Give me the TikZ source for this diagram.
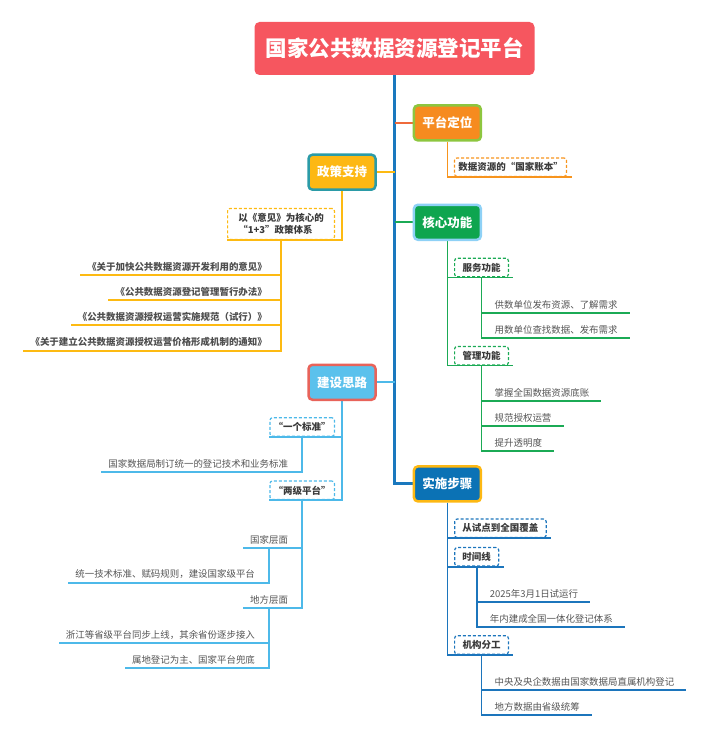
\documentclass[tikz,border=0pt]{standalone}
\usepackage{fontspec}
\setmainfont{Noto Sans CJK SC}
\usetikzlibrary{backgrounds}
\definecolor{titleRed}{HTML}{F6565F}
\definecolor{trunkBlue}{HTML}{1A78BE}
\definecolor{orFill}{HTML}{F68B1F}
\definecolor{orBorder}{HTML}{8DC63F}
\definecolor{orLine}{HTML}{EF6A3B}
\definecolor{orChild}{HTML}{F7941D}
\definecolor{goldFill}{HTML}{FDB813}
\definecolor{goldBorder}{HTML}{2B9BA7}
\definecolor{goldLine}{HTML}{FDBA12}
\definecolor{grFill}{HTML}{0EA54F}
\definecolor{grBorder}{HTML}{8ED1F6}
\definecolor{grLine}{HTML}{1BAA55}
\definecolor{lbFill}{HTML}{5BC1EC}
\definecolor{lbBorder}{HTML}{E8635A}
\definecolor{lbLine}{HTML}{4DB9E9}
\definecolor{bFill}{HTML}{0B72B5}
\definecolor{bBorder}{HTML}{FDB813}
\definecolor{bLine}{HTML}{1C75BC}
\definecolor{leafGray}{HTML}{555555}
\definecolor{darkText}{HTML}{3A3A3A}
\begin{document}
\begin{tikzpicture}[x=1pt,y=-1pt,
  titlebox/.style={fill=titleRed, rounded corners=5pt, minimum width=280pt, minimum height=53pt, inner sep=0pt, text=white, font=\bfseries\fontsize{21.5}{24}\selectfont},
  mainbox/.style={draw, line width=2.5pt, rounded corners=4pt, minimum width=67pt, minimum height=35pt, inner sep=0pt, text=white, font=\bfseries\fontsize{12.5}{14}\selectfont},
  dnode/.style={draw, dash pattern=on 3pt off 2pt, line width=1.2pt, rounded corners=2.5pt, inner sep=0pt, minimum height=18.5pt, text=darkText, font=\bfseries\fontsize{9.5}{12.5}\selectfont},
  rleaf/.style={anchor=south west, inner xsep=0pt, inner ysep=3.5pt, text=leafGray, font=\fontsize{9.45}{11.5}\selectfont, execute at begin node={\hspace*{13pt}}, execute at end node={\hspace*{12pt}}},
  lleaf/.style={anchor=south east, inner xsep=0pt, inner ysep=3.5pt, text=leafGray, font=\fontsize{9.45}{11.5}\selectfont, execute at begin node={\hspace*{7pt}}, execute at end node={\hspace*{14pt}}},
  docleaf/.style={lleaf, text=darkText!90, font=\bfseries\fontsize{9.45}{11.5}\selectfont},
  trunk/.style={draw=trunkBlue, line width=3pt},
  branch/.style={line width=2pt},
  sub/.style={line width=1.7pt}
]
\useasboundingbox (0,0) rectangle (704,738);

% root and main topics
\node[titlebox] (title) at (394.5,48.5) {国家公共数据资源登记平台};
\node[mainbox, fill=orFill, draw=orBorder] (pos) at (447.4,122.9) {平台定位};
\node[mainbox, fill=goldFill, draw=goldBorder] (pol) at (342,172.2) {政策支持};
\node[mainbox, fill=grFill, draw=grBorder] (core) at (447.4,222.3) {核心功能};
\node[mainbox, fill=lbFill, draw=lbBorder] (idea) at (342,382.3) {建设思路};
\node[mainbox, fill=bFill, draw=bBorder] (impl) at (447.4,483.9) {实施步骤};

% 平台定位
\node[dnode, draw=orChild, minimum width=112pt] (acct) at (510.5,167.2) {数据资源的“国家账本”};

% 政策支持
\node[dnode, draw=goldLine, minimum width=106.8pt, minimum height=31pt, align=left] (core13) at (281,223.9) {以《意见》为核心的\\“1+3”政策体系};
\node[docleaf] (p1) at (281,275.3) {《关于加快公共数据资源开发利用的意见》};
\node[docleaf] (p2) at (281,300.3) {《公共数据资源登记管理暂行办法》};
\node[docleaf] (p3) at (281,325.3) {《公共数据资源授权运营实施规范（试行）》};
\node[docleaf] (p4) at (281,350.7) {《关于建立公共数据资源授权运营价格形成机制的通知》};

% 核心功能
\node[dnode, draw=grLine, minimum width=53.8pt] (svc) at (481.5,267.5) {服务功能};
\node[rleaf] (s1) at (481.5,312.7) {供数单位发布资源、了解需求};
\node[rleaf] (s2) at (481.5,337.7) {用数单位查找数据、发布需求};
\node[dnode, draw=grLine, minimum width=53.8pt] (mgt) at (481.5,355.7) {管理功能};
\node[rleaf] (m1) at (481.5,400.7) {掌握全国数据资源底账};
\node[rleaf] (m2) at (481.5,426) {规范授权运营};
\node[rleaf] (m3) at (481.5,451) {提升透明度};

% 建设思路
\node[dnode, draw=lbLine, minimum width=64.5pt] (std) at (302.2,427) {“一个标准”};
\node[lleaf] (i1) at (302.2,472.3) {国家数据局制订统一的登记技术和业务标准};
\node[dnode, draw=lbLine, minimum width=64.5pt] (two) at (302.2,490.3) {“两级平台”};
\node[lleaf] (nat) at (302.2,547.7) {国家层面};
\coordinate (natj) at ([xshift=-3.5pt]nat.south);
\node[lleaf] (n1) at (natj |- 0,582.7) {统一技术标准、赋码规则，建设国家级平台};
\node[lleaf] (loc) at (302.2,608.3) {地方层面};
\coordinate (locj) at ([xshift=-3.5pt]loc.south);
\node[lleaf] (l1) at (locj |- 0,643.3) {浙江等省级平台同步上线，其余省份逐步接入};
\node[lleaf] (l2) at (locj |- 0,668.3) {属地登记为主、国家平台兜底};

% 实施步骤
\node[dnode, draw=bLine, minimum width=91.5pt] (pilot) at (500.4,528.3) {从试点到全国覆盖};
\node[dnode, draw=bLine, minimum width=44pt] (tl) at (476.7,556.8) {时间线};
\node[rleaf] (t1) at (476.7,601.7) {2025年3月1日试运行};
\node[rleaf] (t2) at (476.7,627.3) {年内建成全国一体化登记体系};
\node[dnode, draw=bLine, minimum width=53.8pt] (org) at (481.5,645) {机构分工};
\node[rleaf] (o1) at (481.5,690) {中央及央企数据由国家数据局直属机构登记};
\node[rleaf] (o2) at (481.5,715) {地方数据由省级统筹};

\begin{pgfonlayer}{background}
  % trunk and branches
  \draw[trunk] (title.south) |- (impl.west);
  \draw[branch, draw=orLine] (title.south |- pos.west) -- (pos.west);
  \draw[branch, draw=goldLine] (title.south |- pol.east) -- (pol.east);
  \draw[branch, draw=grLine] (title.south |- core.west) -- (core.west);
  \draw[branch, draw=lbLine] (title.south |- idea.east) -- (idea.east);

  % 平台定位
  \draw[sub, draw=orChild] (pos.south) |- (acct.south west) -- ([xshift=4.5pt]acct.south east);

  % 政策支持
  \draw[sub, draw=goldLine] (pol.south) |- (core13.south east) -- (core13.south west);
  \foreach \n in {p1,p2,p3,p4}
    \draw[sub, draw=goldLine] (core13.south) |- (\n.south east) -- (\n.south west);

  % 核心功能
  \draw[sub, draw=grLine] (core.south) |- (svc.south west) -- ([xshift=4pt]svc.south east);
  \draw[sub, draw=grLine] (core.south) |- (mgt.south west) -- ([xshift=4pt]mgt.south east);
  \foreach \n in {s1,s2}
    \draw[sub, draw=grLine] (svc.south) |- (\n.south west) -- (\n.south east);
  \foreach \n in {m1,m2,m3}
    \draw[sub, draw=grLine] (mgt.south) |- (\n.south west) -- (\n.south east);

  % 建设思路
  \draw[sub, draw=lbLine] (idea.south) |- (std.south east) -- (std.south west);
  \draw[sub, draw=lbLine] (idea.south) |- (two.south east) -- (two.south west);
  \draw[sub, draw=lbLine] (std.south) |- (i1.south east) -- (i1.south west);
  \draw[sub, draw=lbLine] (two.south) |- (nat.south east) -- (nat.south west);
  \draw[sub, draw=lbLine] (two.south) |- (loc.south east) -- (loc.south west);
  \draw[sub, draw=lbLine] (natj) |- (n1.south east) -- (n1.south west);
  \foreach \n in {l1,l2}
    \draw[sub, draw=lbLine] (locj) |- (\n.south east) -- (\n.south west);

  % 实施步骤
  \draw[sub, draw=bLine] (impl.south) |- (pilot.south west) -- ([xshift=4pt]pilot.south east);
  \draw[sub, draw=bLine] (impl.south) |- (tl.south west) -- ([xshift=4.5pt]tl.south east);
  \draw[sub, draw=bLine] (impl.south) |- (org.south west) -- ([xshift=4pt]org.south east);
  \foreach \n in {t1,t2}
    \draw[sub, draw=bLine] (tl.south) |- (\n.south west) -- (\n.south east);
  \foreach \n in {o1,o2}
    \draw[sub, draw=bLine] (org.south) |- (\n.south west) -- (\n.south east);
\end{pgfonlayer}
\end{tikzpicture}
\end{document}
